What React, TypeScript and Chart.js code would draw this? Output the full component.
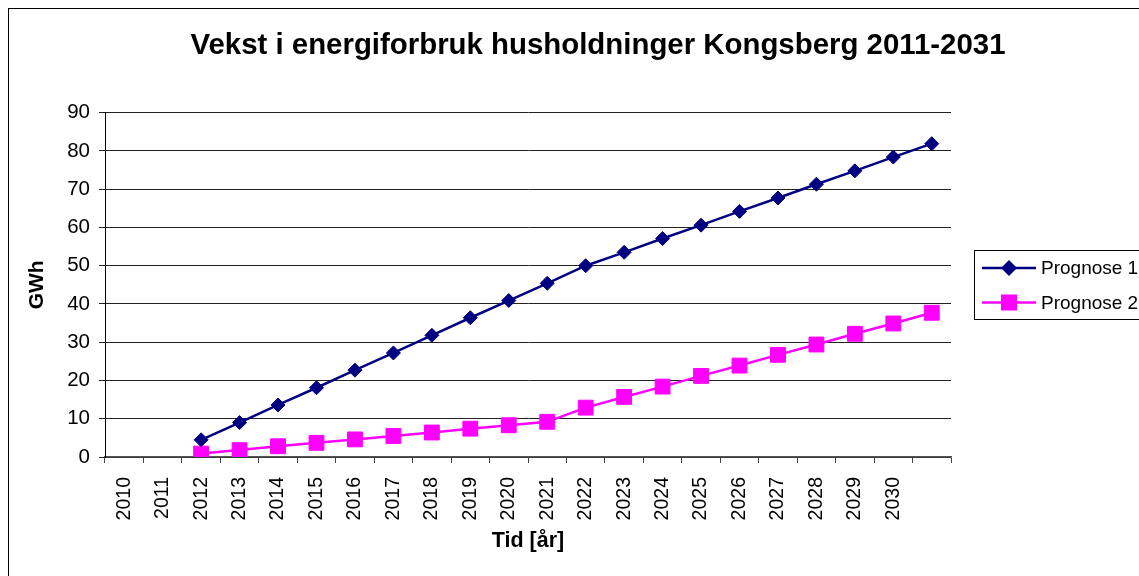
import React, { useEffect, useRef } from "react";
import { Chart, registerables } from "chart.js";

Chart.register(...registerables);

const categories = [
  "2010", "2011", "2012", "2013", "2014", "2015", "2016", "2017", "2018", "2019", "2020",
  "2021", "2022", "2023", "2024", "2025", "2026", "2027", "2028", "2029", "2030", "",
];
const prognose1 = [
  null, null, 4.5, 9.0, 13.6, 18.1, 22.7, 27.2, 31.8, 36.4, 40.9,
  45.4, 50.0, 53.5, 57.1, 60.6, 64.2, 67.7, 71.3, 74.8, 78.4, 81.9,
];
const prognose2 = [
  null, null, 0.9, 1.8, 2.8, 3.7, 4.6, 5.5, 6.4, 7.4, 8.3,
  9.2, 12.9, 15.7, 18.4, 21.2, 23.9, 26.7, 29.4, 32.2, 34.9, 37.7,
];
const seriesNames = ["Prognose 1", "Prognose 2"];
const yTicks = { min: 0, max: 90, step: 10 };
const titleText = "Vekst i energiforbruk husholdninger Kongsberg 2011-2031";
const yTitle = "GWh";
const xTitle = "Tid [år]";

const FONT = "'Liberation Sans', Arial, sans-serif";
const NAVY = "#000080";
const MAGENTA = "#FF00FF";

const legendPlugin = {
  id: "excelLegend",
  afterDraw(chart: any) {
    const ctx = chart.ctx;
    const left = 965.5;
    const top = 241.5;
    const right = 1150;
    const bottom = 310.5;
    ctx.save();
    ctx.strokeStyle = "#000";
    ctx.lineWidth = 1;
    ctx.strokeRect(left, top, right - left, bottom - top);
    const rows = [259, 293.5];
    chart.data.datasets.forEach((ds: any, i: number) => {
      const y = rows[i];
      ctx.strokeStyle = ds.borderColor;
      ctx.lineWidth = 2.5;
      ctx.beginPath();
      ctx.moveTo(973, y);
      ctx.lineTo(1027, y);
      ctx.stroke();
      ctx.fillStyle = ds.borderColor;
      ctx.beginPath();
      if (ds.pointStyle === "rectRot") {
        const r = 8;
        ctx.moveTo(1000 - r, y);
        ctx.lineTo(1000, y - r);
        ctx.lineTo(1000 + r, y);
        ctx.lineTo(1000, y + r);
        ctx.closePath();
      } else {
        ctx.rect(1000 - 8, y - 8, 16, 16);
      }
      ctx.fill();
      ctx.fillStyle = "#000";
      ctx.font = `19px ${FONT}`;
      ctx.textBaseline = "middle";
      ctx.textAlign = "left";
      ctx.fillText(ds.label, 1032, y + 1);
    });
    ctx.restore();
  },
};

export default function App() {
  const ref = useRef<HTMLCanvasElement | null>(null);

  useEffect(() => {
    if (!ref.current) return;
    const chart = new Chart(ref.current, {
      type: "line",
      data: {
        labels: categories,
        datasets: [
          {
            label: seriesNames[0],
            data: prognose1,
            borderColor: NAVY,
            backgroundColor: NAVY,
            borderWidth: 2.5,
            pointStyle: "rectRot",
            pointRadius: 7,
            pointBorderWidth: 1,
            pointBackgroundColor: NAVY,
            pointBorderColor: NAVY,
            tension: 0,
            spanGaps: false,
          },
          {
            label: seriesNames[1],
            data: prognose2,
            borderColor: MAGENTA,
            backgroundColor: MAGENTA,
            borderWidth: 2.5,
            pointStyle: "rect",
            pointRadius: 10.5,
            pointBorderWidth: 1,
            pointBackgroundColor: MAGENTA,
            pointBorderColor: MAGENTA,
            tension: 0,
          },
        ],
      },
      options: {
        responsive: false,
        animation: false,
        layout: { padding: { top: 0, left: 0, right: 0, bottom: 50 } },
        plugins: {
          legend: { display: false },
          tooltip: { enabled: false },
          title: {
            display: true,
            text: titleText,
            color: "#000",
            font: { family: FONT, size: 29.4, weight: "bold", lineHeight: 1.2 },
            padding: { top: 19.5, bottom: 48.9 },
          },
        },
        scales: {
          x: {
            type: "category",
            offset: true,
            grid: {
              display: true,
              drawOnChartArea: false,
              drawTicks: true,
              tickLength: 6,
              offset: true,
              color: "#444",
            },
            border: { display: true, color: "#555", width: 1.5 },
            ticks: {
              autoSkip: false,
              minRotation: 90,
              maxRotation: 90,
              padding: 14,
              color: "#000",
              font: { family: FONT, size: 19.5 },
            },
            title: {
              display: true,
              text: xTitle,
              color: "#000",
              font: { family: FONT, size: 21.5, weight: "bold", lineHeight: 1.2 },
              padding: { top: 0, bottom: 3.1 },
            },
            afterFit: (scale: any) => {
              scale.height = 100;
            },
          },
          y: {
            type: "linear",
            min: yTicks.min,
            max: yTicks.max,
            grid: {
              color: "#222",
              lineWidth: 1,
              drawTicks: true,
              tickLength: 6,
            },
            border: { display: true, color: "#000", width: 1 },
            ticks: {
              stepSize: yTicks.step,
              padding: 9,
              color: "#000",
              font: { family: FONT, size: 20.5 },
            },
            title: {
              display: true,
              text: yTitle,
              color: "#000",
              font: { family: FONT, size: 21, weight: "bold", lineHeight: 1.2 },
              padding: { top: 16, bottom: 0 },
            },
            afterFit: (scale: any) => {
              scale.width = 96;
            },
          },
          yr: {
            type: "linear",
            position: "right",
            display: true,
            grid: { display: false },
            border: { display: false },
            ticks: { display: false },
            afterFit: (scale: any) => {
              scale.width = 236;
            },
          },
        },
      },
      plugins: [legendPlugin],
    } as any);
    return () => chart.destroy();
  }, []);

  return (
    <div
      style={{
        position: "fixed",
        left: 8,
        top: 8,
        width: 1180,
        height: 600,
        border: "1px solid #000",
        boxSizing: "border-box",
        background: "#fff",
      }}
    >
      <canvas ref={ref} width={1178} height={598} style={{ display: "block", width: 1178, height: 598 }} />
    </div>
  );
}
